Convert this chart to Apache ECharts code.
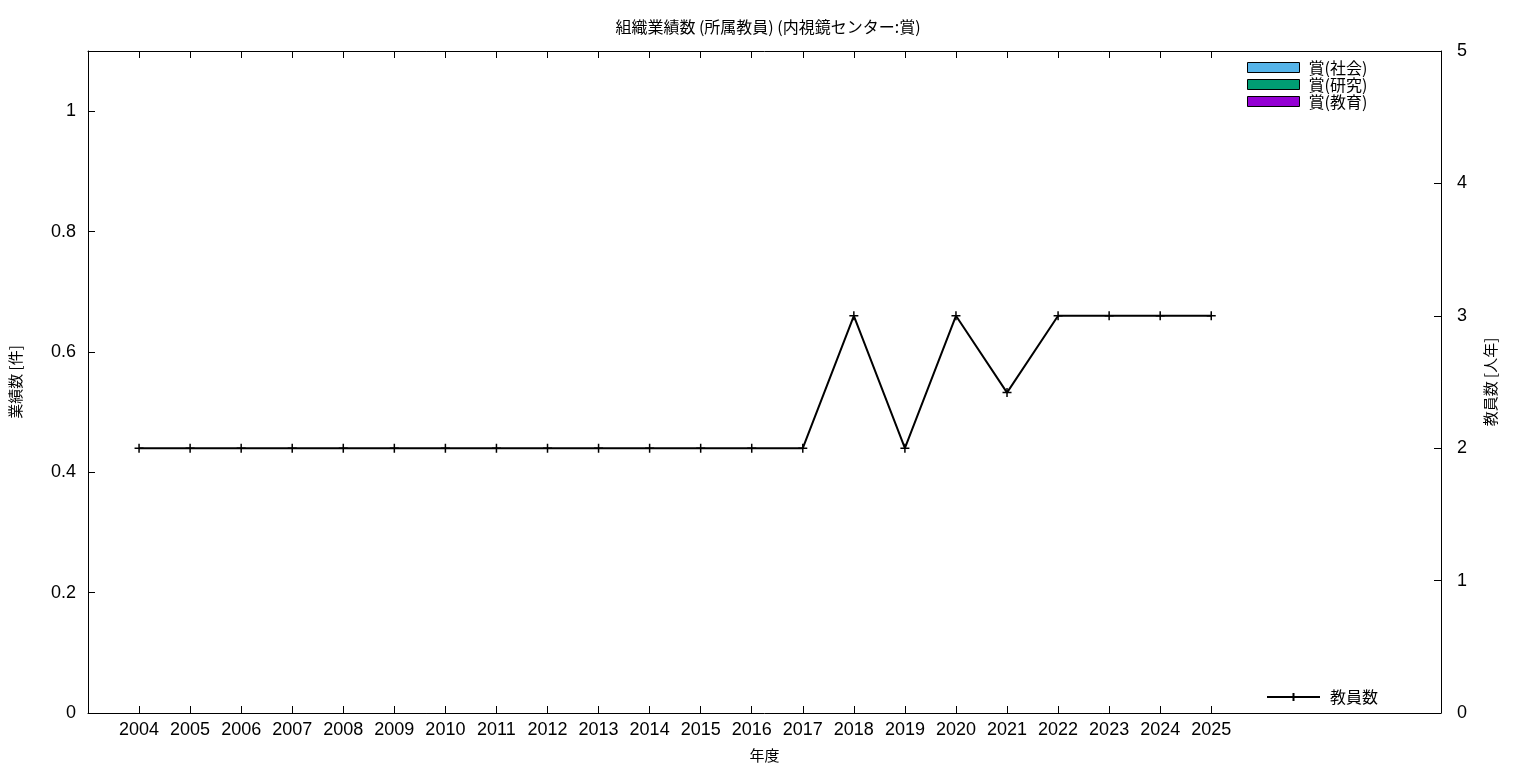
<!DOCTYPE html>
<html>
<head>
<meta charset="utf-8">
<script src="https://cdn.jsdelivr.net/npm/echarts@6/dist/echarts.min.js"></script>
<style>html,body{margin:0;padding:0;background:#fff}#c{width:1536px;height:768px}</style>
</head>
<body>
<div id="c"></div>
<script>
const years = ['2004','2005','2006','2007','2008','2009','2010','2011','2012','2013','2014','2015','2016','2017','2018','2019','2020','2021','2022','2023','2024','2025'];
const awardSocial   = [0,0,0,0,0,0,0,0,0,0,0,0,0,0,0,0,0,0,0,0,0,0];
const awardResearch = [0,0,0,0,0,0,0,0,0,0,0,0,0,0,0,0,0,0,0,0,0,0];
const awardEducation= [0,0,0,0,0,0,0,0,0,0,0,0,0,0,0,0,0,0,0,0,0,0];
const staff = [2,2,2,2,2,2,2,2,2,2,2,2,2,2,3,2,3,2.42,3,3,3,3];
const leftTicks = [0,0.2,0.4,0.6,0.8,1];
const rightTicks = [0,1,2,3,4,5];

const idx = years.map((_, i) => i);
const LATIN = '"Liberation Sans", Arial, sans-serif';
const CJK = '"Noto Sans CJK JP", sans-serif';
const cross = 'path://M0,5L10,5M5,0L5,10';

const chart = echarts.init(document.getElementById('c'));
const pair = arr => arr.map((v, i) => [i, v]);
chart.setOption({
  animation: false,
  backgroundColor: '#fff',
  title: {
    text: '組織業績数 (所属教員) (内視鏡センター:賞)',
    left: 'center', top: 14,
    textStyle: { fontFamily: CJK, fontSize: 16, fontWeight: 'normal', color: '#000' }
  },
  grid: { left: 88, right: 95, top: 51, bottom: 55, containLabel: false, outerBoundsMode: 'none' },
  legend: [{
    orient: 'vertical', left: 1242, top: 54,
    itemWidth: 52, itemHeight: 10, itemGap: 0,
    icon: 'rect',
    itemStyle: { borderColor: '#000', borderWidth: 1 },
    textStyle: { fontFamily: CJK, fontSize: 16, color: '#000', lineHeight: 17, padding: [0, 0, 0, 4] },
    data: ['賞(社会)', '賞(研究)', '賞(教育)']
  }, {
    orient: 'vertical', left: 1261, top: 684,
    itemWidth: 53, itemHeight: 10,
    textStyle: { fontFamily: CJK, fontSize: 16, color: '#000', padding: [0, 0, 0, 5] },
    data: ['教員数']
  }],
  xAxis: [{
    type: 'value', min: -1, max: 25.5, interval: 1,
    name: '年度', nameLocation: 'middle', nameGap: 35,
    nameTextStyle: { fontFamily: CJK, fontSize: 15, color: '#000' },
    axisLine: { onZero: false, lineStyle: { color: '#000', width: 1 } },
    axisTick: { inside: true, length: 7, customValues: idx, lineStyle: { color: '#000' } },
    axisLabel: { customValues: idx, margin: 8, fontFamily: LATIN, fontSize: 18, color: '#000',
      formatter: v => years[Math.round(v)] || '' },
    splitLine: { show: false }
  }, {
    type: 'value', min: -1, max: 25.5, interval: 1, position: 'top',
    axisLine: { onZero: false, lineStyle: { color: '#000', width: 1 } },
    axisTick: { inside: true, length: 7, customValues: idx, lineStyle: { color: '#000' } },
    axisLabel: { show: false },
    splitLine: { show: false }
  }],
  yAxis: [{
    type: 'value', min: 0, max: 1.1, interval: 0.2, position: 'left',
    name: '業績数 [件]', nameLocation: 'middle', nameGap: 65, nameRotate: 90,
    nameTextStyle: { fontFamily: CJK, fontSize: 15, color: '#000' },
    axisLine: { show: true, onZero: false, lineStyle: { color: '#000', width: 1 } },
    axisTick: { inside: true, length: 7, customValues: leftTicks, lineStyle: { color: '#000' } },
    axisLabel: { customValues: leftTicks, margin: 12, fontFamily: LATIN, fontSize: 18, color: '#000',
      formatter: v => (Math.abs(v - 1) < 1e-9 ? '1' : (Math.abs(v) < 1e-9 ? '0' : v.toFixed(1))) },
    splitLine: { show: false }
  }, {
    type: 'value', min: 0, max: 5, interval: 1, position: 'right',
    name: '教員数 [人年]', nameLocation: 'middle', nameGap: 42, nameRotate: 90,
    nameTextStyle: { fontFamily: CJK, fontSize: 15, color: '#000' },
    axisLine: { show: true, onZero: false, lineStyle: { color: '#000', width: 1 } },
    axisTick: { inside: true, length: 7, customValues: rightTicks, lineStyle: { color: '#000' } },
    axisLabel: { customValues: rightTicks, margin: 16, fontFamily: LATIN, fontSize: 18, color: '#000' },
    splitLine: { show: false }
  }],
  series: [
    { name: '賞(社会)', type: 'bar', xAxisIndex: 0, yAxisIndex: 0, stack: 'a', barWidth: 30,
      itemStyle: { color: '#56B4E9' }, data: pair(awardSocial) },
    { name: '賞(研究)', type: 'bar', xAxisIndex: 0, yAxisIndex: 0, stack: 'a', barWidth: 30,
      itemStyle: { color: '#009E73' }, data: pair(awardResearch) },
    { name: '賞(教育)', type: 'bar', xAxisIndex: 0, yAxisIndex: 0, stack: 'a', barWidth: 30,
      itemStyle: { color: '#9400D3' }, data: pair(awardEducation) },
    { name: '教員数', type: 'line', xAxisIndex: 0, yAxisIndex: 1,
      symbol: cross, symbolSize: 9,
      lineStyle: { color: '#000', width: 2 },
      itemStyle: { color: 'rgba(0,0,0,0)', borderColor: '#000', borderWidth: 1.5 },
      data: pair(staff) }
  ]
});
</script>
</body>
</html>
